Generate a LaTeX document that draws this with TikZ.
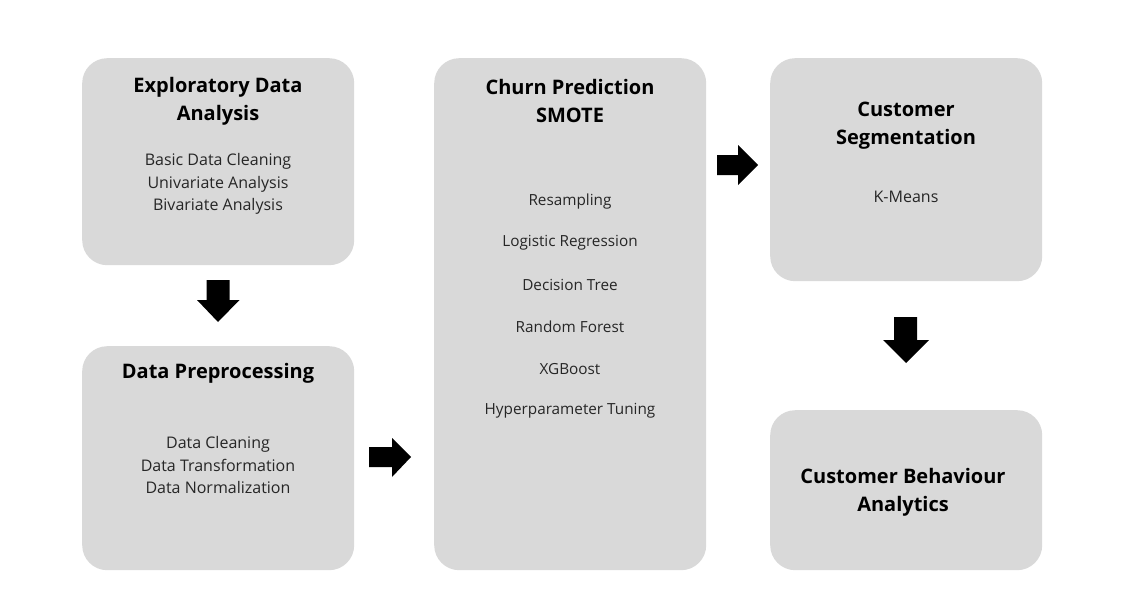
\documentclass[tikz,border=0pt]{standalone}
\usepackage{fontspec}
\setmainfont{Open Sans}
\begin{document}
\begin{tikzpicture}[x=1pt,y=-1pt,
  box/.style={fill=boxgray, draw=none, rounded corners=25pt, inner sep=0pt, anchor=north west},
  ttl/.style={font=\fontsize{20}{28}\selectfont\bfseries, align=center, text=black, inner sep=0pt},
  itm/.style={font=\fontsize{16}{22.5}\selectfont, align=center, text=black!85, inner sep=0pt},
  itms/.style={font=\fontsize{15.3}{22.5}\selectfont, align=center, text=black!85, inner sep=0pt},
  blk/.style={fill=black, draw=none}]
\definecolor{boxgray}{HTML}{D9D9D9}
\useasboundingbox (0,0) rectangle (1137,615);
% boxes
\node[box, minimum width=272pt, minimum height=207pt] (eda) at (82,58) {};
\node[box, minimum width=272pt, minimum height=224pt] (prep) at (82,346) {};
\node[box, minimum width=272pt, minimum height=512pt] (churn) at (434,58) {};
\node[box, minimum width=272pt, minimum height=223pt] (seg) at (770,58) {};
\node[box, minimum width=272pt, minimum height=160pt] (beh) at (770,410) {};
% texts
\node[ttl] (edaT) at (218,101) {Exploratory Data\\Analysis};
\node[itm] (edaI) at (218,184) {Basic Data Cleaning\\Univariate Analysis\\Bivariate Analysis};
\node[ttl] (prepT) at (218,373) {Data Preprocessing};
\node[itm] (prepI) at (218,465) {Data Cleaning\\Data Transformation\\Data Normalization};
\node[ttl] (churnT) at (570,101) {Churn Prediction\\SMOTE};
\node[itms] (c1) at (570,202) {Resampling};
\node[itms] (c2) at (570,243) {Logistic Regression};
\node[itms] (c3) at (570,285) {Decision Tree};
\node[itms] (c4) at (570,327) {Random Forest};
\node[itms] (c5) at (570,369) {XGBoost};
\node[itms] (c6) at (570,411) {Hyperparameter Tuning};
\node[ttl] (segT) at (906,126) {Customer\\Segmentation};
\node[itm] (segI) at (906,197) {K-Means};
\node[ttl] (behT) at (903,492) {Customer Behaviour\\Analytics};
% block arrows
\coordinate (a1) at (218,280);
\fill[blk] (a1) ++(-11.5,0) -- ++(23,0) -- ++(0,20) -- ++(10,0) -- (218,322) -- (197,300) -- (206.5,300) -- cycle;
\coordinate (a2) at (369,447);
\fill[blk] (a2) -- (392,447) -- (392,438) -- (411,457) -- (392,477) -- (392,467) -- (369,467) -- cycle;
\coordinate (a3) at (717,155);
\fill[blk] (a3) -- (738,155) -- (738,145) -- (758,165) -- (738,185) -- (738,175) -- (717,175) -- cycle;
\coordinate (a4) at (894,317);
\fill[blk] (a4) -- (917,317) -- (917,340) -- (929,340) -- (906,363) -- (883,340) -- (894,340) -- cycle;
\end{tikzpicture}
\end{document}
